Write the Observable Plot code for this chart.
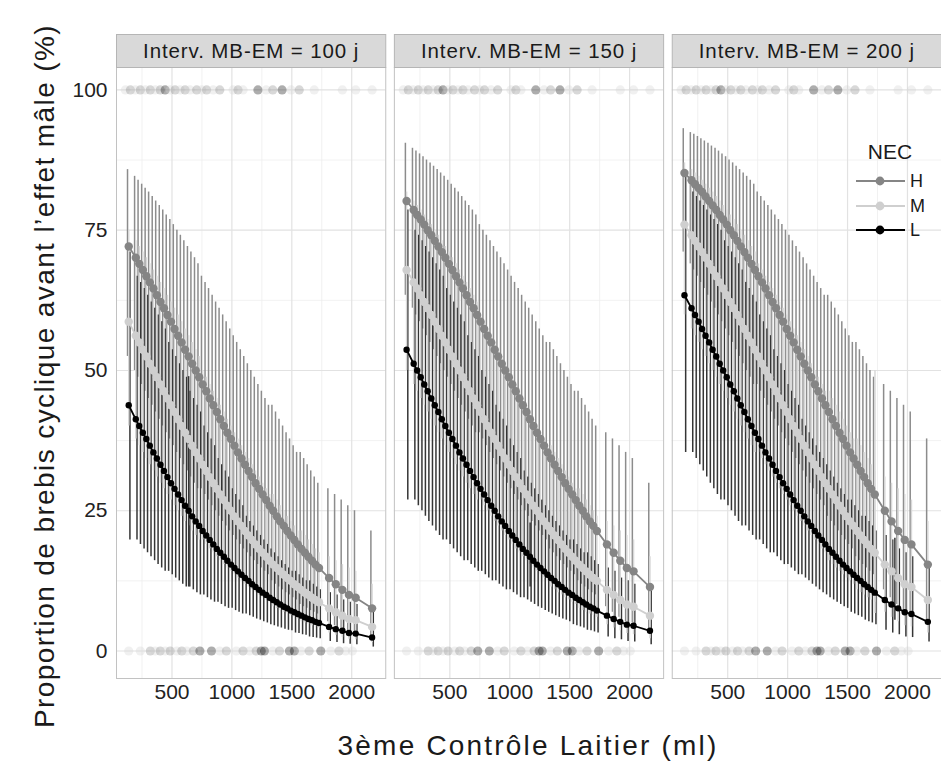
<!DOCTYPE html>
<html><head><meta charset="utf-8">
<script src="https://cdn.jsdelivr.net/npm/d3@7"></script>
<script src="https://cdn.jsdelivr.net/npm/@observablehq/plot@0.6"></script>
<style>
html,body{margin:0;padding:0;background:#fff;overflow:hidden;}
#wrap{position:relative;width:941px;height:776px;font-family:"Liberation Sans",Arial,sans-serif;color:#1a1a1a;}
#ytitle{position:absolute;left:45px;top:376px;transform:translate(-50%,-50%) rotate(-90deg);font-size:28px;letter-spacing:1.4px;white-space:nowrap;}
#xtitle{position:absolute;left:528px;top:746px;transform:translate(-50%,-50%);font-size:28px;letter-spacing:2.2px;white-space:nowrap;}
#legend{position:absolute;left:850px;top:138px;width:90px;}
#legend .t{position:absolute;left:40px;top:14px;transform:translate(-50%,-50%);font-size:21px;}
#legend .row{position:absolute;left:0;height:20px;width:90px;}
#legend .row span{position:absolute;left:60px;top:10px;transform:translateY(-50%);font-size:18px;}
#wrap svg g[aria-label="text"] text{letter-spacing:0.9px;}
</style></head>
<body><div id="wrap"></div>
<script>
// ---------- data ----------
const facets = ["100", "150", "200"];
const facetLabels = ["Interv. MB-EM = 100 j", "Interv. MB-EM = 150 j", "Interv. MB-EM = 200 j"];
const groups = ["H", "M", "L"];
const groupColors = ["#858585", "#cfcfcf", "#000000"];
const barColors = ["#8c8c8c", "#d8d8d8", "#353535"];
const xTicks = [500, 1000, 1500, 2000];
const xMinor = [250, 750, 1250, 1750];
const yTicks = [0, 25, 50, 75, 100];
const yMinor = [12.5, 37.5, 62.5, 87.5];

const xPos = [139, 198, 227, 257, 286, 315, 345, 374, 404, 433, 462, 492, 521, 551, 580, 609, 639, 668, 698, 727, 756, 786, 815, 845, 874, 903, 933, 962, 992, 1021, 1050, 1080, 1109, 1139, 1168, 1197, 1227, 1256, 1286, 1315, 1344, 1374, 1403, 1433, 1462, 1491, 1521, 1550, 1580, 1609, 1638, 1668, 1697, 1727, 1811, 1867, 1922, 1977, 2033, 2170];

// Interv. 100 j
const fit_100_H = [72.1, 70.1, 69.0, 67.9, 66.8, 65.7, 64.6, 63.4, 62.2, 61.1, 59.9, 58.7, 57.4, 56.2, 55.0, 53.7, 52.5, 51.2, 50.0, 48.8, 47.5, 46.3, 45.0, 43.8, 42.6, 41.3, 40.1, 38.9, 37.8, 36.6, 35.4, 34.3, 33.2, 32.1, 31.0, 29.9, 28.9, 27.9, 26.9, 25.9, 25.0, 24.0, 23.1, 22.3, 21.4, 20.6, 19.8, 19.0, 18.2, 17.5, 16.8, 16.1, 15.4, 14.8, 13.0, 11.9, 10.9, 10.0, 9.5, 7.6];
const hi_100_H = [85.8, 84.6, 83.9, 83.2, 82.5, 81.8, 81.0, 80.2, 79.4, 78.6, 77.7, 76.9, 76.0, 75.0, 74.1, 73.1, 72.1, 71.1, 70.1, 69.0, 66.8, 65.7, 64.6, 63.4, 62.2, 61.1, 59.9, 58.7, 57.4, 56.2, 55.0, 53.7, 52.5, 51.2, 50.0, 48.8, 47.5, 46.3, 45.0, 43.8, 43.8, 42.6, 41.3, 40.1, 38.9, 37.8, 36.6, 35.4, 35.4, 34.3, 33.2, 32.1, 31.0, 29.9, 28.9, 27.9, 26.9, 25.9, 25.0, 21.4];
const lo_100_H = [52.5, 50.0, 48.8, 47.5, 46.3, 45.0, 43.8, 42.6, 41.3, 40.1, 38.9, 37.8, 36.6, 35.4, 34.3, 33.2, 32.1, 31.0, 29.9, 28.9, 28.9, 27.9, 26.9, 25.9, 25.0, 24.0, 23.1, 22.3, 21.4, 20.6, 19.8, 19.0, 18.2, 17.5, 16.8, 16.1, 15.4, 14.8, 14.2, 13.6, 12.5, 11.9, 11.4, 10.9, 10.4, 10.0, 9.5, 9.1, 8.3, 7.9, 7.6, 7.2, 6.9, 6.6, 5.2, 4.5, 3.9, 3.4, 3.2, 2.4];
const fit_100_M = [58.7, 56.2, 55.0, 53.7, 52.5, 51.2, 50.0, 48.8, 47.5, 46.3, 45.0, 43.8, 42.6, 41.3, 40.1, 38.9, 37.8, 36.6, 35.4, 34.3, 33.2, 32.1, 31.0, 29.9, 28.9, 27.9, 26.9, 25.9, 25.0, 24.0, 23.1, 22.3, 21.4, 20.6, 19.8, 19.0, 18.2, 17.5, 16.8, 16.1, 15.4, 14.8, 14.2, 13.6, 13.0, 12.5, 11.9, 11.4, 10.9, 10.4, 10.0, 9.5, 9.1, 8.7, 7.6, 6.9, 6.3, 5.7, 5.5, 4.3];
const hi_100_M = [75.0, 73.1, 72.1, 71.1, 70.1, 69.0, 67.9, 66.8, 65.7, 64.6, 63.4, 62.2, 61.1, 59.9, 58.7, 57.4, 56.2, 55.0, 53.7, 52.5, 50.0, 48.8, 47.5, 46.3, 45.0, 43.8, 42.6, 41.3, 40.1, 38.9, 37.8, 36.6, 35.4, 34.3, 33.2, 32.1, 31.0, 29.9, 28.9, 27.9, 27.9, 26.9, 25.9, 25.0, 24.0, 23.1, 22.3, 21.4, 21.4, 20.6, 19.8, 19.0, 18.2, 17.5, 16.8, 16.1, 15.4, 14.8, 14.2, 11.9];
const lo_100_M = [40.1, 37.8, 36.6, 35.4, 34.3, 33.2, 32.1, 31.0, 29.9, 28.9, 27.9, 26.9, 25.9, 25.0, 24.0, 23.1, 22.3, 21.4, 20.6, 19.8, 19.8, 19.0, 18.2, 17.5, 16.8, 16.1, 15.4, 14.8, 14.2, 13.6, 13.0, 12.5, 11.9, 11.4, 10.9, 10.4, 10.0, 9.5, 9.1, 8.7, 7.9, 7.6, 7.2, 6.9, 6.6, 6.3, 6.0, 5.7, 5.2, 5.0, 4.7, 4.5, 4.3, 4.1, 3.2, 2.8, 2.4, 2.1, 2.0, 1.5];
const fit_100_L = [43.8, 41.3, 40.1, 38.9, 37.8, 36.6, 35.4, 34.3, 33.2, 32.1, 31.0, 29.9, 28.9, 27.9, 26.9, 25.9, 25.0, 24.0, 23.1, 22.3, 21.4, 20.6, 19.8, 19.0, 18.2, 17.5, 16.8, 16.1, 15.4, 14.8, 14.2, 13.6, 13.0, 12.5, 11.9, 11.4, 10.9, 10.4, 10.0, 9.5, 9.1, 8.7, 8.3, 7.9, 7.6, 7.2, 6.9, 6.6, 6.3, 6.0, 5.7, 5.5, 5.2, 5.0, 4.3, 3.9, 3.6, 3.2, 3.1, 2.4];
const hi_100_L = [71.1, 66.8, 65.7, 64.6, 63.4, 62.2, 61.1, 59.9, 58.7, 57.4, 55.0, 53.7, 52.5, 51.2, 50.0, 48.8, 46.3, 45.0, 43.8, 42.6, 40.1, 38.9, 37.8, 36.6, 34.3, 33.2, 32.1, 31.0, 28.9, 27.9, 26.9, 25.9, 24.0, 23.1, 22.3, 21.4, 20.6, 19.8, 19.0, 18.2, 17.5, 16.8, 16.1, 15.4, 14.8, 14.2, 14.2, 13.6, 13.0, 12.5, 12.5, 11.9, 11.4, 10.9, 10.4, 10.0, 9.1, 8.7, 8.3, 7.6];
const lo_100_L = [19.8, 19.8, 19.0, 18.2, 17.5, 16.8, 16.1, 15.4, 14.8, 14.2, 14.2, 13.6, 13.0, 12.5, 11.9, 11.4, 11.4, 10.9, 10.4, 10.0, 10.0, 9.5, 9.1, 8.7, 8.7, 8.3, 7.9, 7.6, 7.6, 7.2, 6.9, 6.6, 6.6, 6.3, 6.0, 5.7, 5.5, 5.2, 5.0, 4.7, 4.5, 4.3, 4.1, 3.9, 3.7, 3.6, 3.2, 3.1, 2.9, 2.8, 2.5, 2.4, 2.3, 2.2, 1.7, 1.5, 1.3, 1.2, 1.1, 0.7];

// Interv. 150 j
const fit_150_H = [80.2, 78.6, 77.7, 76.9, 76.0, 75.0, 74.1, 73.1, 72.1, 71.1, 70.1, 69.0, 67.9, 66.8, 65.7, 64.6, 63.4, 62.2, 61.1, 59.9, 58.7, 57.4, 56.2, 55.0, 53.7, 52.5, 51.2, 50.0, 48.8, 47.5, 46.3, 45.0, 43.8, 42.6, 41.3, 40.1, 38.9, 37.8, 36.6, 35.4, 34.3, 33.2, 32.1, 31.0, 29.9, 28.9, 27.9, 26.9, 25.9, 25.0, 24.0, 23.1, 22.3, 21.4, 19.0, 17.5, 16.1, 14.8, 14.2, 11.4];
const hi_150_H = [90.5, 89.6, 89.1, 88.6, 88.1, 87.5, 87.0, 86.4, 85.8, 85.2, 84.6, 83.9, 83.2, 82.5, 81.8, 81.0, 80.2, 79.4, 78.6, 77.7, 76.0, 75.0, 74.1, 73.1, 72.1, 71.1, 70.1, 69.0, 67.9, 66.8, 65.7, 64.6, 63.4, 62.2, 61.1, 59.9, 58.7, 57.4, 56.2, 55.0, 55.0, 53.7, 52.5, 51.2, 50.0, 48.8, 47.5, 46.3, 46.3, 45.0, 43.8, 42.6, 41.3, 40.1, 38.9, 37.8, 36.6, 35.4, 34.3, 29.9];
const lo_150_H = [63.4, 61.1, 59.9, 58.7, 57.4, 56.2, 55.0, 53.7, 52.5, 51.2, 50.0, 48.8, 47.5, 46.3, 45.0, 43.8, 42.6, 41.3, 40.1, 38.9, 38.9, 37.8, 36.6, 35.4, 34.3, 33.2, 32.1, 31.0, 29.9, 28.9, 27.9, 26.9, 25.9, 25.0, 24.0, 23.1, 22.3, 21.4, 20.6, 19.8, 18.2, 17.5, 16.8, 16.1, 15.4, 14.8, 14.2, 13.6, 12.5, 11.9, 11.4, 10.9, 10.4, 10.0, 7.9, 6.9, 6.0, 5.2, 5.0, 3.7];
const fit_150_M = [67.9, 65.7, 64.6, 63.4, 62.2, 61.1, 59.9, 58.7, 57.4, 56.2, 55.0, 53.7, 52.5, 51.2, 50.0, 48.8, 47.5, 46.3, 45.0, 43.8, 42.6, 41.3, 40.1, 38.9, 37.8, 36.6, 35.4, 34.3, 33.2, 32.1, 31.0, 29.9, 28.9, 27.9, 26.9, 25.9, 25.0, 24.0, 23.1, 22.3, 21.4, 20.6, 19.8, 19.0, 18.2, 17.5, 16.8, 16.1, 15.4, 14.8, 14.2, 13.6, 13.0, 12.5, 10.9, 10.0, 9.1, 8.3, 7.9, 6.3];
const hi_150_M = [81.8, 80.2, 79.4, 78.6, 77.7, 76.9, 76.0, 75.0, 74.1, 73.1, 72.1, 71.1, 70.1, 69.0, 67.9, 66.8, 65.7, 64.6, 63.4, 62.2, 59.9, 58.7, 57.4, 56.2, 55.0, 53.7, 52.5, 51.2, 50.0, 48.8, 47.5, 46.3, 45.0, 43.8, 42.6, 41.3, 40.1, 38.9, 37.8, 36.6, 36.6, 35.4, 34.3, 33.2, 32.1, 31.0, 29.9, 28.9, 28.9, 27.9, 26.9, 25.9, 25.0, 24.0, 23.1, 22.3, 21.4, 20.6, 19.8, 16.8];
const lo_150_M = [50.0, 47.5, 46.3, 45.0, 43.8, 42.6, 41.3, 40.1, 38.9, 37.8, 36.6, 35.4, 34.3, 33.2, 32.1, 31.0, 29.9, 28.9, 27.9, 26.9, 26.9, 25.9, 25.0, 24.0, 23.1, 22.3, 21.4, 20.6, 19.8, 19.0, 18.2, 17.5, 16.8, 16.1, 15.4, 14.8, 14.2, 13.6, 13.0, 12.5, 11.4, 10.9, 10.4, 10.0, 9.5, 9.1, 8.7, 8.3, 7.6, 7.2, 6.9, 6.6, 6.3, 6.0, 4.7, 4.1, 3.6, 3.1, 2.9, 2.2];
const fit_150_L = [53.7, 51.2, 50.0, 48.8, 47.5, 46.3, 45.0, 43.8, 42.6, 41.3, 40.1, 38.9, 37.8, 36.6, 35.4, 34.3, 33.2, 32.1, 31.0, 29.9, 28.9, 27.9, 26.9, 25.9, 25.0, 24.0, 23.1, 22.3, 21.4, 20.6, 19.8, 19.0, 18.2, 17.5, 16.8, 16.1, 15.4, 14.8, 14.2, 13.6, 13.0, 12.5, 11.9, 11.4, 10.9, 10.4, 10.0, 9.5, 9.1, 8.7, 8.3, 7.9, 7.6, 7.2, 6.3, 5.7, 5.2, 4.7, 4.5, 3.6];
const hi_150_L = [78.6, 75.0, 74.1, 73.1, 72.1, 71.1, 70.1, 69.0, 67.9, 66.8, 64.6, 63.4, 62.2, 61.1, 59.9, 58.7, 56.2, 55.0, 53.7, 52.5, 50.0, 48.8, 47.5, 46.3, 43.8, 42.6, 41.3, 40.1, 37.8, 36.6, 35.4, 34.3, 32.1, 31.0, 29.9, 28.9, 27.9, 26.9, 25.9, 25.0, 24.0, 23.1, 22.3, 21.4, 20.6, 19.8, 19.8, 19.0, 18.2, 17.5, 17.5, 16.8, 16.1, 15.4, 14.8, 14.2, 13.0, 12.5, 11.9, 10.9];
const lo_150_L = [26.9, 26.9, 25.9, 25.0, 24.0, 23.1, 22.3, 21.4, 20.6, 19.8, 19.8, 19.0, 18.2, 17.5, 16.8, 16.1, 16.1, 15.4, 14.8, 14.2, 14.2, 13.6, 13.0, 12.5, 12.5, 11.9, 11.4, 10.9, 10.9, 10.4, 10.0, 9.5, 9.5, 9.1, 8.7, 8.3, 7.9, 7.6, 7.2, 6.9, 6.6, 6.3, 6.0, 5.7, 5.5, 5.2, 4.7, 4.5, 4.3, 4.1, 3.7, 3.6, 3.4, 3.2, 2.5, 2.2, 2.0, 1.7, 1.6, 1.1];

// Interv. 200 j
const fit_200_H = [85.2, 83.9, 83.2, 82.5, 81.8, 81.0, 80.2, 79.4, 78.6, 77.7, 76.9, 76.0, 75.0, 74.1, 73.1, 72.1, 71.1, 70.1, 69.0, 67.9, 66.8, 65.7, 64.6, 63.4, 62.2, 61.1, 59.9, 58.7, 57.4, 56.2, 55.0, 53.7, 52.5, 51.2, 50.0, 48.8, 47.5, 46.3, 45.0, 43.8, 42.6, 41.3, 40.1, 38.9, 37.8, 36.6, 35.4, 34.3, 33.2, 32.1, 31.0, 29.9, 28.9, 27.9, 25.0, 23.1, 21.4, 19.8, 19.0, 15.4];
const hi_200_H = [93.1, 92.4, 92.1, 91.7, 91.3, 90.9, 90.5, 90.0, 89.6, 89.1, 88.6, 88.1, 87.5, 87.0, 86.4, 85.8, 85.2, 84.6, 83.9, 83.2, 81.8, 81.0, 80.2, 79.4, 78.6, 77.7, 76.9, 76.0, 75.0, 74.1, 73.1, 72.1, 71.1, 70.1, 69.0, 67.9, 66.8, 65.7, 64.6, 63.4, 63.4, 62.2, 61.1, 59.9, 58.7, 57.4, 56.2, 55.0, 55.0, 53.7, 52.5, 51.2, 50.0, 48.8, 47.5, 46.3, 45.0, 43.8, 42.6, 37.8];
const lo_200_H = [71.1, 69.0, 67.9, 66.8, 65.7, 64.6, 63.4, 62.2, 61.1, 59.9, 58.7, 57.4, 56.2, 55.0, 53.7, 52.5, 51.2, 50.0, 48.8, 47.5, 47.5, 46.3, 45.0, 43.8, 42.6, 41.3, 40.1, 38.9, 37.8, 36.6, 35.4, 34.3, 33.2, 32.1, 31.0, 29.9, 28.9, 27.9, 26.9, 25.9, 24.0, 23.1, 22.3, 21.4, 20.6, 19.8, 19.0, 18.2, 16.8, 16.1, 15.4, 14.8, 14.2, 13.6, 10.9, 9.5, 8.3, 7.2, 6.9, 5.2];
const fit_200_M = [76.0, 74.1, 73.1, 72.1, 71.1, 70.1, 69.0, 67.9, 66.8, 65.7, 64.6, 63.4, 62.2, 61.1, 59.9, 58.7, 57.4, 56.2, 55.0, 53.7, 52.5, 51.2, 50.0, 48.8, 47.5, 46.3, 45.0, 43.8, 42.6, 41.3, 40.1, 38.9, 37.8, 36.6, 35.4, 34.3, 33.2, 32.1, 31.0, 29.9, 28.9, 27.9, 26.9, 25.9, 25.0, 24.0, 23.1, 22.3, 21.4, 20.6, 19.8, 19.0, 18.2, 17.5, 15.4, 14.2, 13.0, 11.9, 11.4, 9.1];
const hi_200_M = [87.0, 85.8, 85.2, 84.6, 83.9, 83.2, 82.5, 81.8, 81.0, 80.2, 79.4, 78.6, 77.7, 76.9, 76.0, 75.0, 74.1, 73.1, 72.1, 71.1, 69.0, 67.9, 66.8, 65.7, 64.6, 63.4, 62.2, 61.1, 59.9, 58.7, 57.4, 56.2, 55.0, 53.7, 52.5, 51.2, 50.0, 48.8, 47.5, 46.3, 46.3, 45.0, 43.8, 42.6, 41.3, 40.1, 38.9, 37.8, 37.8, 36.6, 35.4, 34.3, 33.2, 32.1, 31.0, 29.9, 28.9, 27.9, 26.9, 23.1];
const lo_200_M = [59.9, 57.4, 56.2, 55.0, 53.7, 52.5, 51.2, 50.0, 48.8, 47.5, 46.3, 45.0, 43.8, 42.6, 41.3, 40.1, 38.9, 37.8, 36.6, 35.4, 35.4, 34.3, 33.2, 32.1, 31.0, 29.9, 28.9, 27.9, 26.9, 25.9, 25.0, 24.0, 23.1, 22.3, 21.4, 20.6, 19.8, 19.0, 18.2, 17.5, 16.1, 15.4, 14.8, 14.2, 13.6, 13.0, 12.5, 11.9, 10.9, 10.4, 10.0, 9.5, 9.1, 8.7, 6.9, 6.0, 5.2, 4.5, 4.3, 3.2];
const fit_200_L = [63.4, 61.1, 59.9, 58.7, 57.4, 56.2, 55.0, 53.7, 52.5, 51.2, 50.0, 48.8, 47.5, 46.3, 45.0, 43.8, 42.6, 41.3, 40.1, 38.9, 37.8, 36.6, 35.4, 34.3, 33.2, 32.1, 31.0, 29.9, 28.9, 27.9, 26.9, 25.9, 25.0, 24.0, 23.1, 22.3, 21.4, 20.6, 19.8, 19.0, 18.2, 17.5, 16.8, 16.1, 15.4, 14.8, 14.2, 13.6, 13.0, 12.5, 11.9, 11.4, 10.9, 10.4, 9.1, 8.3, 7.6, 6.9, 6.6, 5.2];
const hi_200_L = [84.6, 81.8, 81.0, 80.2, 79.4, 78.6, 77.7, 76.9, 76.0, 75.0, 73.1, 72.1, 71.1, 70.1, 69.0, 67.9, 65.7, 64.6, 63.4, 62.2, 59.9, 58.7, 57.4, 56.2, 53.7, 52.5, 51.2, 50.0, 47.5, 46.3, 45.0, 43.8, 41.3, 40.1, 38.9, 37.8, 36.6, 35.4, 34.3, 33.2, 32.1, 31.0, 29.9, 28.9, 27.9, 26.9, 26.9, 25.9, 25.0, 24.0, 24.0, 23.1, 22.3, 21.4, 20.6, 19.8, 18.2, 17.5, 16.8, 15.4];
const lo_200_L = [35.4, 35.4, 34.3, 33.2, 32.1, 31.0, 29.9, 28.9, 27.9, 26.9, 26.9, 25.9, 25.0, 24.0, 23.1, 22.3, 22.3, 21.4, 20.6, 19.8, 19.8, 19.0, 18.2, 17.5, 17.5, 16.8, 16.1, 15.4, 15.4, 14.8, 14.2, 13.6, 13.6, 13.0, 12.5, 11.9, 11.4, 10.9, 10.4, 10.0, 9.5, 9.1, 8.7, 8.3, 7.9, 7.6, 6.9, 6.6, 6.3, 6.0, 5.5, 5.2, 5.0, 4.7, 3.7, 3.2, 2.9, 2.5, 2.4, 1.6];

// isolated long error bars
const extraFacet = ["100", "150", "200", "200"];
const extraX = [639, 1170, 1729, 1895];
const extraLo = [11.4, 11.4, 6.7, 5.5];
const extraHi = [48.9, 22.8, 50.0, 20.1];
const extraGroup = ["L", "L", "M", "L"];

// raw observations (cyclic = 100, non cyclic = 0)
const raw100x = [111, 153, 194, 236, 277, 319, 360, 402, 443, 485, 526, 568, 609, 651, 706, 748, 789, 844, 899, 1010, 1051, 1093, 1217, 1286, 1341, 1419, 1494, 1562, 1687, 1922, 2033, 2170];
const raw100g = ["M","H","M","H","M","H","M","H","L","M","H","M","H","M","H","M","H","M","H","M","H","M","L","M","H","L","M","H","M","M","M","M"];
const raw0x = [139, 236, 319, 360, 402, 443, 485, 540, 582, 623, 678, 733, 830, 899, 954, 1037, 1093, 1148, 1203, 1245, 1272, 1341, 1397, 1480, 1521, 1576, 1645, 1742, 1825, 1894, 1949, 2005];
const raw0g = ["M","M","H","M","H","M","H","M","H","M","H","L","L","M","H","M","H","M","H","L","L","M","H","L","L","M","H","L","M","H","M","M"];

// ---------- tables ----------
const series = [
  ["100", "H", fit_100_H, lo_100_H, hi_100_H], ["100", "M", fit_100_M, lo_100_M, hi_100_M], ["100", "L", fit_100_L, lo_100_L, hi_100_L],
  ["150", "H", fit_150_H, lo_150_H, hi_150_H], ["150", "M", fit_150_M, lo_150_M, hi_150_M], ["150", "L", fit_150_L, lo_150_L, hi_150_L],
  ["200", "H", fit_200_H, lo_200_H, hi_200_H], ["200", "M", fit_200_M, lo_200_M, hi_200_M], ["200", "L", fit_200_L, lo_200_L, hi_200_L]
];
const rows = series.flatMap(([f, g, fit, lo, hi]) => xPos.map((x, i) => ({fx: f, g, x, y: fit[i], lo: lo[i], hi: hi[i]})));
const extras = extraX.map((x, i) => ({fx: extraFacet[i], g: extraGroup[i], x, lo: extraLo[i], hi: extraHi[i]}));
const rug = facets.flatMap(f => [
  ...raw100x.map((x, i) => ({fx: f, x, y: 100, g: raw100g[i]})),
  ...raw0x.map((x, i) => ({fx: f, x, y: 0, g: raw0g[i]}))
]);
const strips = facets.map((f, i) => ({fx: f, label: facetLabels[i]}));
const byG = g => rows.filter(d => d.g === g);
const gi = g => groups.indexOf(g);
const barDx = {H: -1.2, M: 0, L: 1.2};
const dotR = {H: 4.2, M: 4.2, L: 3.2};

const barMark = g => Plot.ruleX(byG(g), {fx: "fx", x: "x", y1: "lo", y2: "hi", stroke: barColors[gi(g)], strokeWidth: 1.5, dx: barDx[g]});

const chart = Plot.plot({
  width: 941, height: 776,
  marginLeft: 116, marginRight: 0, marginTop: 67, marginBottom: 98,
  style: {fontFamily: '"Liberation Sans", Arial, sans-serif', background: "transparent", color: "#222", fontSize: "21px"},
  fx: {domain: facets, paddingInner: 0.031, paddingOuter: 0, round: false, axis: null, label: null},
  x: {domain: [37, 2284], label: null},
  y: {domain: [-4.9, 104], label: null},
  color: {domain: groups, range: groupColors},
  marks: [
    Plot.frame({fill: "#ffffff"}),
    Plot.gridY({ticks: yMinor, stroke: "#eeeeee", strokeOpacity: 1, strokeWidth: 0.8}),
    Plot.gridX({ticks: xMinor, stroke: "#eeeeee", strokeOpacity: 1, strokeWidth: 0.8}),
    Plot.gridY({ticks: yTicks, stroke: "#e2e2e2", strokeOpacity: 1, strokeWidth: 1.2}),
    Plot.gridX({ticks: xTicks, stroke: "#e2e2e2", strokeOpacity: 1, strokeWidth: 1.2}),
    Plot.dot(rug, {fx: "fx", x: "x", y: "y", r: 4.6, fill: "g", fillOpacity: 0.32}),
    barMark("H"),
    barMark("L"),
    barMark("M"),
    Plot.ruleX(extras, {fx: "fx", x: "x", y1: "lo", y2: "hi", stroke: d => barColors[gi(d.g)], strokeWidth: 1.5}),
    Plot.line(rows, {fx: "fx", x: "x", y: "y", z: "g", stroke: "g", strokeWidth: 1.8}),
    ...groups.map(g => Plot.dot(byG(g), {fx: "fx", x: "x", y: "y", fill: groupColors[gi(g)], r: dotR[g]})),
    Plot.frame({stroke: "#c2c2c2", strokeWidth: 1}),
    Plot.frame({fill: "#d9d9d9", stroke: "#b5b5b5", insetTop: -33, insetBottom: 611}),
    Plot.text(strips, {fx: "fx", text: "label", frameAnchor: "top", dy: -16.5, lineAnchor: "middle", fontSize: 20.5, fill: "#1a1a1a"}),
    Plot.axisX({ticks: xTicks, tickFormat: d => String(d), tickSize: 0, tickPadding: 6, fontSize: 21, label: null}),
    Plot.axisY({ticks: yTicks, tickFormat: d => String(d), tickSize: 0, tickPadding: 9, fontSize: 21, label: null})
  ]
});

const wrap = document.getElementById("wrap");
wrap.appendChild(chart);

const yt = document.createElement("div");
yt.id = "ytitle";
yt.textContent = "Proportion de brebis cyclique avant l\u2019effet mâle (%)";
wrap.appendChild(yt);

const xt = document.createElement("div");
xt.id = "xtitle";
xt.textContent = "3ème Contrôle Laitier (ml)";
wrap.appendChild(xt);

// legend built from the group arrays
const leg = document.createElement("div");
leg.id = "legend";
const lt = document.createElement("div");
lt.className = "t";
lt.textContent = "NEC";
leg.appendChild(lt);
groups.forEach((g, i) => {
  const row = document.createElement("div");
  row.className = "row";
  row.style.top = (33 + i * 24.7) + "px";
  const s = d3.create("svg").attr("width", 58).attr("height", 20).style("position", "absolute").style("left", "0px").style("top", "0px");
  s.append("line").attr("x1", 6).attr("x2", 55).attr("y1", 10).attr("y2", 10).attr("stroke", groupColors[i]).attr("stroke-width", 2.2);
  s.append("circle").attr("cx", 30).attr("cy", 10).attr("r", 4.4).attr("fill", groupColors[i]);
  row.appendChild(s.node());
  const sp = document.createElement("span");
  sp.textContent = g;
  row.appendChild(sp);
  leg.appendChild(row);
});
wrap.appendChild(leg);
</script>
</body></html>
